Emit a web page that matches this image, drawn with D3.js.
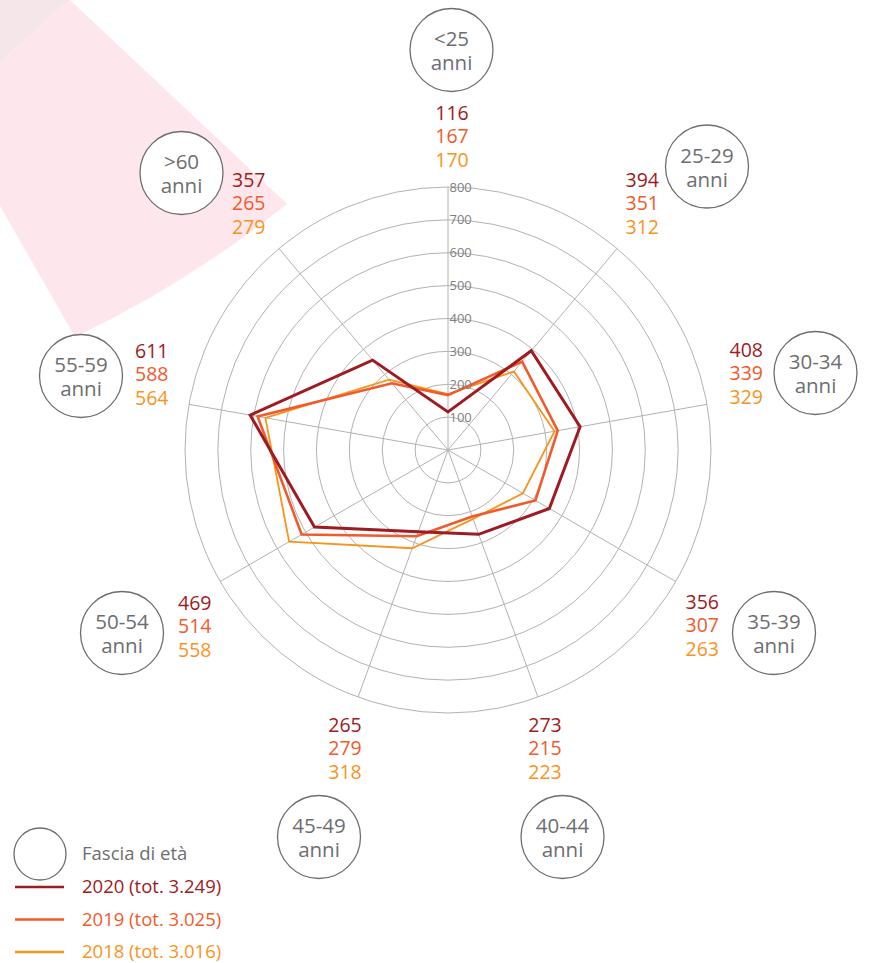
<!DOCTYPE html>
<html>
<head>
<meta charset="utf-8">
<script src="https://cdn.jsdelivr.net/npm/d3@7"></script>
<style>
  html, body { margin: 0; padding: 0; background: #fff; }
  svg { display: block; font-family: "Open Sans", "Noto Sans", sans-serif; }
</style>
</head>
<body>
<svg id="chart" width="870" height="963"></svg>
<script>
// Age bands (one axis each, clockwise from the top)
const categories = ["<25", "25-29", "30-34", "35-39", "40-44", "45-49", "50-54", "55-59", ">60"];
const categoryLine2 = "anni";

// Staff per age band
const values2020 = [116, 394, 408, 356, 273, 265, 469, 611, 357];
const values2019 = [167, 351, 339, 307, 215, 279, 514, 588, 265];
const values2018 = [170, 312, 329, 263, 223, 318, 558, 564, 279];

const seriesNames = ["2020 (tot. 3.249)", "2019 (tot. 3.025)", "2018 (tot. 3.016)"];
const seriesColors = ["#9e1b22", "#f15a2b", "#f7941d"];
const seriesWidths = [3, 2.6, 1.8];

const tickValues = [100, 200, 300, 400, 500, 600, 700, 800];
const legendTitle = "Fascia di età";

// ---- layout ----
const cx = 448, cy = 450;
const rMax = 263;
const svg = d3.select("#chart");
const grey = "#6d6e71";

// Badge centres (offset from chart centre) and the placement of each value stack
const badgeOffset = [[3.5, -400], [259, -283.5], [367.5, -77], [326, 183], [114.5, 387],
                     [-129, 387], [-326, 183], [-367, -74], [-266.5, -277]];
const stackPlace = [
  {dx: 0.5, dy: 63, anchor: "middle"},
  {dx: -48, dy: 13.5, anchor: "end"},
  {dx: -52.5, dy: -23, anchor: "end"},
  {dx: -55, dy: -31, anchor: "end"},
  {dx: -17.5, dy: -112, anchor: "middle"},
  {dx: 26, dy: -112, anchor: "middle"},
  {dx: 56, dy: -30, anchor: "start"},
  {dx: 54, dy: -25, anchor: "start"},
  {dx: 50.5, dy: 7, anchor: "start"}
];

// Decorative background band
svg.append("path")
  .attr("d", "M0,0 L70,0 L0,62 Z")
  .attr("fill", "#f4e6e9");
svg.append("path")
  .attr("d", "M70,0 L287,204 Q190,282 75,337 L0,206 L0,62 Z")
  .attr("fill", "#fde6ec");

const r = d3.scaleLinear().domain([0, 800]).range([0, rMax]);
const angle = d3.scaleLinear().domain([0, categories.length]).range([0, 2 * Math.PI]);

const g = svg.append("g").attr("transform", `translate(${cx},${cy})`);

// Grid rings
g.selectAll("circle.ring")
  .data(tickValues)
  .join("circle")
  .attr("class", "ring")
  .attr("r", d => r(d))
  .attr("fill", "none")
  .attr("stroke", "#b2b2b2")
  .attr("stroke-width", 1);

// Spokes
g.selectAll("line.spoke")
  .data(categories)
  .join("line")
  .attr("class", "spoke")
  .attr("x1", 0).attr("y1", 0)
  .attr("x2", (d, i) => r(800) * Math.sin(angle(i)))
  .attr("y2", (d, i) => -r(800) * Math.cos(angle(i)))
  .attr("stroke", "#b2b2b2")
  .attr("stroke-width", 1);

// Series polygons (oldest underneath)
const radial = d3.lineRadial()
  .angle((d, i) => angle(i))
  .radius(d => r(d))
  .curve(d3.curveLinearClosed);

const series = [values2020, values2019, values2018];
[2, 1, 0].forEach(k => {
  g.append("path")
    .datum(series[k])
    .attr("d", radial)
    .attr("fill", "none")
    .attr("stroke", seriesColors[k])
    .attr("stroke-width", seriesWidths[k])
    .attr("stroke-linejoin", "miter");
});

// Ring values along the vertical spoke
g.selectAll("text.tick")
  .data(tickValues)
  .join("text")
  .attr("class", "tick")
  .attr("x", 1.5)
  .attr("y", d => -r(d))
  .attr("dy", "0.35em")
  .attr("font-size", 13)
  .attr("fill", "#808080")
  .text(d => d);

// Category badges
const badges = svg.selectAll("g.badge")
  .data(categories)
  .join("g")
  .attr("class", "badge")
  .attr("transform", (d, i) => `translate(${cx + badgeOffset[i][0]},${cy + badgeOffset[i][1]})`);

badges.append("circle")
  .attr("r", 41.5)
  .attr("fill", "#fff")
  .attr("stroke", grey)
  .attr("stroke-width", 1.3);

badges.append("text")
  .attr("text-anchor", "middle")
  .attr("y", -11)
  .attr("dy", "0.35em")
  .attr("font-size", 20.5)
  .attr("fill", grey)
  .text(d => d);

badges.append("text")
  .attr("text-anchor", "middle")
  .attr("y", 13)
  .attr("dy", "0.35em")
  .attr("font-size", 20.5)
  .attr("fill", grey)
  .text(categoryLine2);

// Value stacks next to each badge
badges.each(function(d, i) {
  const p = stackPlace[i];
  series.forEach((s, k) => {
    d3.select(this).append("text")
      .attr("x", p.dx)
      .attr("y", p.dy + k * 23.5)
      .attr("dy", "0.35em")
      .attr("text-anchor", p.anchor)
      .attr("font-size", 19.5)
      .attr("fill", seriesColors[k])
      .text(s[i]);
  });
});

// Legend
const legend = svg.append("g");
legend.append("circle")
  .attr("cx", 40).attr("cy", 854).attr("r", 26)
  .attr("fill", "#fff").attr("stroke", grey).attr("stroke-width", 1.3);
legend.append("text")
  .attr("x", 82).attr("y", 854).attr("dy", "0.35em")
  .attr("font-size", 18.5).attr("fill", grey)
  .text(legendTitle);

const legendRows = legend.selectAll("g.row")
  .data(seriesNames)
  .join("g")
  .attr("class", "row")
  .attr("transform", (d, i) => `translate(0,${887 + i * 32.5})`);
legendRows.append("line")
  .attr("x1", 15).attr("x2", 64)
  .attr("stroke", (d, i) => seriesColors[i])
  .attr("stroke-width", 2.5);
legendRows.append("text")
  .attr("x", 82).attr("dy", "0.35em")
  .attr("font-size", 18.5)
  .attr("fill", (d, i) => seriesColors[i])
  .text(d => d);
</script>
</body>
</html>
